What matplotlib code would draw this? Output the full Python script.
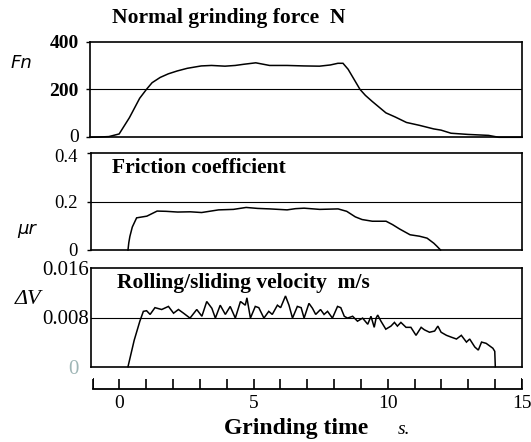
import matplotlib
matplotlib.use("Agg")
import matplotlib.pyplot as plt
import matplotlib.transforms as mtransforms

# ---------------- data ----------------
# Panel 1: normal grinding force (N)
t_force = [-1.0, -0.7, -0.3, 0.08, 0.46, 0.84, 1.09, 1.3, 1.6, 1.9, 2.23, 2.6, 3.12, 3.5, 4.0,
           4.38, 4.7, 5.14, 5.65, 6.3, 6.92, 7.5, 7.9, 8.18, 8.37, 8.56, 9.0, 9.2, 9.45,
           9.96, 10.3, 10.72, 11.2, 11.73, 12.0, 12.37, 13.0, 13.76, 14.14, 15.0]
force = [0, 1, 3, 14, 82, 163, 200, 228, 250, 265, 277, 288, 298, 300, 297,
         300, 305, 311, 300, 300, 298, 297, 302, 309, 309, 284, 200, 175, 150,
         102, 85, 62, 50, 35, 30, 17, 12, 8, 0, 0]

# Panel 2: friction coefficient
t_mu = [0.39, 0.42, 0.46, 0.55, 0.71, 1.09, 1.47, 1.8, 2.23, 2.7, 3.12, 3.75, 4.3, 4.77,
        5.2, 5.65, 6.29, 6.6, 6.92, 7.5, 8.18, 8.5, 8.82, 9.07, 9.45, 9.96, 10.2, 10.46,
        10.85, 11.2, 11.48, 11.73, 11.85, 11.98]
mu = [0, 0.03, 0.056, 0.095, 0.133, 0.140, 0.161, 0.160, 0.157, 0.158, 0.155, 0.166, 0.168,
      0.176, 0.172, 0.170, 0.166, 0.171, 0.173, 0.168, 0.170, 0.160, 0.137, 0.126, 0.119,
      0.119, 0.105, 0.087, 0.063, 0.057, 0.049, 0.028, 0.015, 0]

# Panel 3: rolling/sliding velocity (m/s)
t_dv = [0.39, 0.62, 0.83, 0.96, 1.08, 1.21, 1.39, 1.64, 1.89, 2.08, 2.26, 2.45, 2.69, 2.94,
        3.13, 3.31, 3.50, 3.63, 3.81, 4.00, 4.18, 4.37, 4.56, 4.74, 4.80, 4.93, 5.11, 5.24,
        5.43, 5.61, 5.74, 5.93, 6.05, 6.23, 6.36, 6.49, 6.67, 6.81, 6.92, 7.10, 7.23, 7.35,
        7.53, 7.66, 7.79, 7.97, 8.16, 8.28, 8.41, 8.53, 8.72, 8.90, 9.09, 9.28, 9.40, 9.52,
        9.59, 9.65, 9.77, 9.95, 10.14, 10.27, 10.38, 10.51, 10.70, 10.88, 11.07, 11.26,
        11.38, 11.57, 11.76, 11.88, 12.00, 12.20, 12.38, 12.57, 12.75, 12.94, 13.06, 13.25,
        13.38, 13.50, 13.67, 13.92, 13.99, 14.01]
dv = [0, 0.0043, 0.0074, 0.0090, 0.0091, 0.0085, 0.0096, 0.0093, 0.0098, 0.0087, 0.0093,
      0.0087, 0.0079, 0.0093, 0.0082, 0.0106, 0.0095, 0.0079, 0.0100, 0.0085, 0.0098,
      0.0079, 0.0106, 0.0100, 0.0112, 0.0079, 0.0098, 0.0096, 0.0079, 0.0090, 0.0085,
      0.0100, 0.0096, 0.0115, 0.0100, 0.0079, 0.0098, 0.0096, 0.0079, 0.0103, 0.0095,
      0.0085, 0.0093, 0.0085, 0.0090, 0.0079, 0.0098, 0.0096, 0.0082, 0.0079, 0.0082,
      0.0074, 0.0079, 0.0069, 0.0082, 0.0064, 0.0079, 0.0084, 0.0074, 0.0061, 0.0066,
      0.0072, 0.0066, 0.0072, 0.0064, 0.0064, 0.0051, 0.0064, 0.0060, 0.0056, 0.0058,
      0.0066, 0.0056, 0.0051, 0.0048, 0.0045, 0.0051, 0.0040, 0.0045, 0.0032, 0.0027,
      0.0040, 0.0038, 0.0030, 0.0025, 0]

force_ticks = [0, 200, 400]
force_ticklabels = ["0", "200", "400"]
mu_ticks = [0, 0.2, 0.4]
mu_ticklabels = ["0", "0.2", "0.4"]
dv_ticks = [0, 0.008, 0.016]
dv_ticklabels = ["0", "0.008", "0.016"]
time_ticks = list(range(-1, 16))
time_labelled = [0, 5, 10, 15]

# ---------------- figure ----------------
W, H = 531, 442
fig = plt.figure(figsize=(W / 100, H / 100), dpi=100)
fig.patch.set_facecolor("white")

SERIF = ["Liberation Serif", "DejaVu Serif"]


def box(left, top, right, bottom):
    return [left / W, 1 - bottom / H, (right - left) / W, (bottom - top) / H]


XLIM = (-1, 15)


def make_panel(rect, t, y, ylim, ticks, ticklabels, midline, pad, fs, tlen):
    ax = fig.add_axes(rect)
    ax.plot(t, y, color="black", lw=1.1, solid_joinstyle="miter", clip_on=False)
    ax.axhline(midline, color="black", lw=0.8)
    ax.set_xlim(*XLIM)
    ax.set_ylim(*ylim)
    ax.set_xticks([])
    ax.set_yticks(ticks)
    ax.set_yticklabels(ticklabels, family=SERIF, fontsize=fs)
    ax.tick_params(axis="y", length=tlen, width=1.0, pad=pad, direction="out")
    for s in ax.spines.values():
        s.set_linewidth(1.2)
    return ax


def shift(label, dx_px, dy_px):
    label.set_transform(label.get_transform() +
                        mtransforms.ScaledTranslation(dx_px / 100, dy_px / 100,
                                                      fig.dpi_scale_trans))


ax1 = make_panel(box(90, 41.5, 522, 137.3), t_force, force, (0, 400),
                 force_ticks, force_ticklabels, 200, 5, 14, 3)
for lbl in ax1.get_yticklabels()[1:]:
    lbl.set_fontweight("bold")
shift(ax1.get_yticklabels()[0], 0, 2)

ax2 = make_panel(box(90.5, 153.3, 522, 250), t_mu, mu, (0, 0.4),
                 mu_ticks, mu_ticklabels, 0.2, 6, 13.5, 3)
shift(ax2.get_yticklabels()[2], 0, -2)

ax3 = make_panel(box(90.5, 268.3, 522, 366.7), t_dv, dv, (0, 0.016),
                 dv_ticks, dv_ticklabels, 0.008, 1, 15, 0)
ax3.get_yticklabels()[0].set_color("#9fb6b6")
shift(ax3.get_yticklabels()[0], -10, 0)

# time axis
axt = fig.add_axes(box(92.5, 378, 522, 389))
axt.set_xlim(*XLIM)
axt.set_ylim(0, 1)
for name in ("top", "left", "right"):
    axt.spines[name].set_visible(False)
axt.spines["bottom"].set_linewidth(1.3)
axt.patch.set_visible(False)
axt.set_yticks([])
axt.set_xticks(time_ticks)
axt.set_xticklabels([str(v) if v in time_labelled else "" for v in time_ticks],
                    family=SERIF, fontsize=14)
axt.tick_params(axis="x", direction="in", length=7, width=1.2, pad=4)
axt.axvline(XLIM[0], color="black", lw=1.3)
axt.axvline(XLIM[1], color="black", lw=1.3)

# texts
fig.text(112 / W, 1 - 23.5 / H, "Normal grinding force  N", family=SERIF,
         fontweight="bold", fontsize=15.5, va="baseline", ha="left")
ax2.text(112 / W, 1 - 173.3 / H, "Friction coefficient", family=SERIF,
         fontweight="bold", fontsize=15.5, va="baseline", ha="left",
         transform=fig.transFigure)
ax3.text(117 / W, 1 - 288 / H, "Rolling/sliding velocity  m/s", family=SERIF,
         fontweight="bold", fontsize=15.5, va="baseline", ha="left",
         transform=fig.transFigure)

fig.text(21 / W, 1 - 63 / H, "Fn", family=["DejaVu Sans"], style="italic",
         fontsize=13, va="center", ha="center")
fig.text(27 / W, 1 - 229 / H, "\u03bcr", family=["DejaVu Sans"], style="italic",
         fontsize=13, va="center", ha="center")
fig.text(28 / W, 1 - 299 / H, "\u0394V", family=SERIF, style="italic",
         fontsize=16, va="center", ha="center")

fig.text(296 / W, 1 - 434 / H, "Grinding time", family=SERIF, fontweight="bold",
         fontsize=17, va="baseline", ha="center")
fig.text(398 / W, 1 - 434 / H, "s.", family=SERIF, style="italic",
         fontsize=14, va="baseline", ha="left")

fig.savefig("out.png", dpi=100, facecolor="white")
